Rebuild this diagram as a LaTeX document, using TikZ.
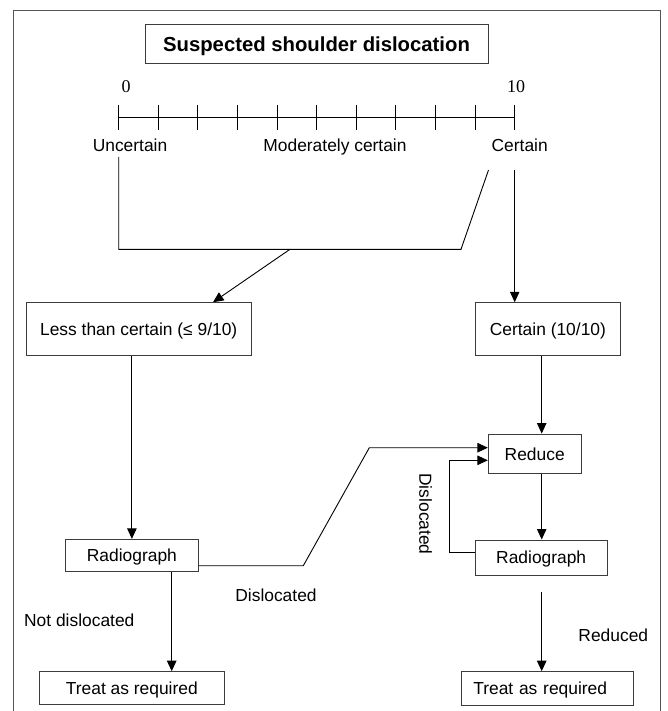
\documentclass[tikz,border=0pt]{standalone}
\usepackage{fontspec}
\setmainfont{Liberation Sans}
\newfontfamily\timesfont{Liberation Serif}
\usetikzlibrary{arrows.meta}
\definecolor{boxgray}{RGB}{60,60,60}
\definecolor{framegray}{RGB}{85,85,85}
\begin{document}
\begin{tikzpicture}[x=1pt,y=-1pt,
  every node/.style={font=\fontsize{17.4}{20}\selectfont, inner sep=0pt},
  box/.style={draw=boxgray, line width=1pt, text height=12.5pt, text depth=0pt, align=center},
  lbl/.style={text height=12.5pt, text depth=0pt},
  conn/.style={line width=0.9pt, black},
  arr/.style={conn, -{Triangle[length=10.5pt,width=9.5pt]}},
  frameline/.style={draw=framegray, line width=1.3pt}
]
\useasboundingbox (0,0) rectangle (667,711);
\draw[frameline] (13.7,712) -- (13.7,10.3) -- (660.5,10.3) -- (660.5,712);

% title
\node[box, font=\fontsize{20.3}{24}\selectfont\bfseries, text height=14.6pt,
      minimum width=343pt, minimum height=39pt] (title) at (316.5,44.5) {Suspected shoulder dislocation};

% scale
\draw[conn] (118.7,117.3) -- (514.7,117.3);
\foreach \i in {0,...,10} \draw[conn] (118.7+39.6*\i,105) -- ++(0,25);
\node[font=\timesfont\fontsize{18}{20}\selectfont, text height=12.2pt, text depth=0pt] (n0) at (126,86.7) {0};
\node[font=\timesfont\fontsize{18}{20}\selectfont, text height=12.2pt, text depth=0pt] (n10) at (516,86.7) {10};
\node[lbl] (unc) at (130,145.7) {Uncertain};
\node[lbl] (mod) at (335,145.7) {Moderately certain};
\node[lbl] (cer) at (519.7,145.7) {Certain};

% boxes
\node[box, minimum width=224.7pt, minimum height=52.3pt] (less) at (138.7,328.9) {Less than certain (≤ 9/10)};
\node[box, minimum width=145.7pt, minimum height=52.3pt] (certbox) at (547.9,328.9) {Certain (10/10)};
\node[box, minimum width=92.7pt, minimum height=39.7pt] (reduce) at (534.7,453.9) {Reduce};
\node[box, minimum width=132.3pt, minimum height=31.7pt] (radL) at (131.9,555.2) {Radiograph};
\node[box, minimum width=132.3pt, minimum height=35pt] (radR) at (541.2,557.5) {Radiograph};
\node[box, minimum width=185pt, minimum height=32.6pt] (treatL) at (131.8,688) {Treat as required};
\node[box, minimum height=34pt, text width=148.4pt, align=left, inner xsep=11.6pt] (treatR) at (547.5,688.7) {Treat as required};

% labels
\node[lbl] (notdis) at (79.3,620.7) {Not dislocated};
\node[lbl] (dis) at (276,595) {Dislocated};
\node[lbl] (red) at (613.3,635) {Reduced};
\node[lbl, rotate=-90] (dis2) at (425.5,514) {Dislocated};

% helper coordinates
\coordinate (u0) at (118.7,157);
\coordinate (u1) at (118.7,249.3);
\coordinate (u2) at (461,249.3);
\coordinate (c0) at (488.5,170);
\coordinate (j1) at (290,249.3);
\coordinate (c1) at (514.7,170);
\coordinate (xc) at (541.7,0);
\coordinate (xl) at (171.7,0);
\coordinate (d1) at (303.3,565.7);
\coordinate (d2) at (369.3,447.7);
\coordinate (l1) at (449,552.7);
\coordinate (l2) at (449,460.3);
\coordinate (r0) at (541.7,592.3);

% connectors
\draw[conn] (u0) -- (u1) -- (u2) -- (c0);
\draw[arr] (j1) -- ([xshift=74.3pt]less.north);
\draw[arr] (c1) -- (c1 |- certbox.north);
\draw[arr] (radL.north |- less.south) -- (radL.north);
\draw[arr] (certbox.south -| xc) -- (reduce.north -| xc);
\draw[arr] (reduce.south -| xc) -- (radR.north -| xc);
\draw[arr] (r0) -- (treatR.north -| xc);
\draw[arr] (radL.south -| xl) -- (treatL.north -| xl);
\draw[arr] (radL.east |- d1) -- (d1) -- (d2) -- (reduce.west |- d2);
\draw[arr] (radR.west |- l1) -- (l1) -- (l2) -- (reduce.west |- l2);
\end{tikzpicture}
\end{document}
